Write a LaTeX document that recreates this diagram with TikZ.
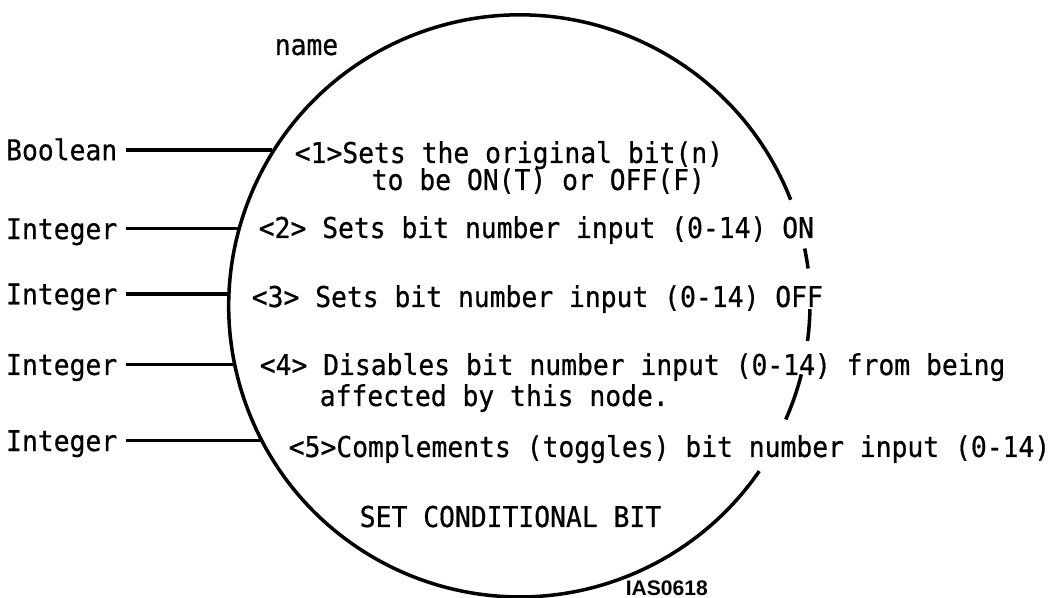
\documentclass[tikz,border=0pt]{standalone}
\usepackage{fontspec}
\setmonofont[FakeStretch=0.92,FakeBold=0.6]{DejaVu Sans Mono}
\newfontfamily\figfont{Liberation Sans}
\begin{document}
\begin{tikzpicture}[line width=2pt,
    txt/.style={anchor=base west,inner sep=0pt,font=\ttfamily\fontsize{16.3}{18}\selectfont},
    lbl/.style={anchor=east,inner xsep=4pt,inner ysep=0pt,text height=11.9pt,text depth=0pt,
                font=\ttfamily\fontsize{16.3}{18}\selectfont}]
\useasboundingbox (0,0) rectangle (21.24,11.96);
% the node circle, broken where the text runs through it
\node[circle,minimum size=11.64cm,inner sep=0pt,outer sep=0pt] (sb) at (10.38,5.88) {};
\draw (sb.21.4) arc[start angle=21.4,end angle=325.4,radius=5.82cm];
\draw (sb.11.7) arc[start angle=11.7,end angle=7.7,radius=5.82cm];
\draw (sb.-1.2) arc[start angle=-1.2,end angle=-7.5,radius=5.82cm];
\draw (sb.-14.4) arc[start angle=-14.4,end angle=-23.8,radius=5.82cm];
\node[txt] (nm) at (5.46,10.86) {name};
% inputs
\coordinate (lx) at (2.52,0);
\node[lbl] (in1) at (sb.148.7 -| lx) {Boolean}; \draw (in1.east)--(sb.148.7);
\node[lbl] (in2) at (sb.165.3 -| lx) {Integer}; \draw (in2.east)--(sb.165.3);
\node[lbl] (in3) at (sb.178.6 -| lx) {Integer}; \draw (in3.east)--(sb.178.6);
\node[lbl] (in4) at (sb.192.1 -| lx) {Integer}; \draw (in4.east)--(sb.192.1);
\node[lbl] (in5) at (sb.208.75 -| lx) {Integer}; \draw (in5.east)--(sb.208.75);
% descriptions
\node[txt] (d1) at (5.86,8.70) {<1>Sets the original bit(n)};
\node[txt] (d1b) at (7.40,8.16) {to be ON(T) or OFF(F)};
\node[txt] (d2) at (5.14,7.20) {<2> Sets bit number input (0-14) ON};
\node[txt] (d3) at (5.00,5.82) {<3> Sets bit number input (0-14) OFF};
\node[txt] (d4) at (5.16,4.46) {<4> Disables bit number input (0-14) from being};
\node[txt] (d4b) at (6.36,3.84) {affected by this node.};
\node[txt] (d5) at (5.74,2.82) {<5>Complements (toggles) bit number input (0-14)};
\node[txt] (ttl) at (7.16,1.42) {SET CONDITIONAL BIT};
\node[anchor=base west,inner sep=0pt,font=\figfont\bfseries\fontsize{12}{14}\selectfont] (fig) at (12.48,0.05) {IAS0618};
\end{tikzpicture}
\end{document}
